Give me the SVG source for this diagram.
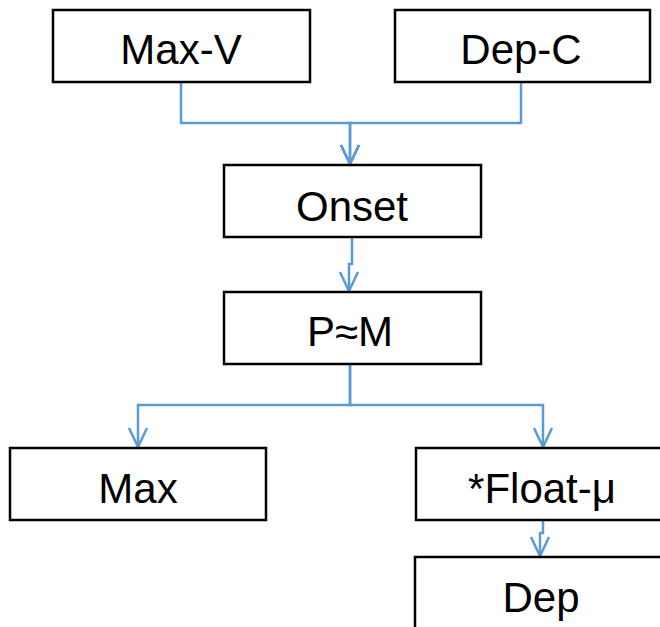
<svg xmlns="http://www.w3.org/2000/svg" width="660" height="627" viewBox="0 0 660 627">
<style>
.box{fill:#fff;stroke:#000;stroke-width:2.5}
.lbl{font-family:"Liberation Sans",Arial,sans-serif;font-size:42px;fill:#000;text-anchor:middle}
.con{fill:none;stroke:#5B9BD5;stroke-width:2.5;marker-end:url(#arr)}
</style>
<defs>
<marker id="arr" markerUnits="userSpaceOnUse" markerWidth="30" markerHeight="30" viewBox="-20 -15 30 30" refX="0" refY="0" orient="auto" overflow="visible">
<path d="M-19,-9 L0,0 L-19,9" fill="none" stroke="#5B9BD5" stroke-width="2.5"/>
</marker>
</defs>
<g id="connectors">
<path class="con" d="M181,82 V123 H350 V164"/>
<path class="con" d="M521,82 V123 H350 V164"/>
<path class="con" d="M352,237 V264 H349 V291"/>
<path class="con" d="M350,364 V405 H138 V447"/>
<path class="con" d="M350,364 V405 H543 V447"/>
<path class="con" d="M543,520 V533 H540 V556"/>
</g>
<g id="max-v"><rect class="box" x="53" y="10" width="257" height="72"/><text class="lbl" x="181" y="64">Max-V</text></g>
<g id="dep-c"><rect class="box" x="395" y="10" width="255" height="72"/><text class="lbl" x="521" y="64">Dep-C</text></g>
<g id="onset"><rect class="box" x="224" y="165" width="257" height="72"/><text class="lbl" x="352" y="221">Onset</text></g>
<g id="pm"><rect class="box" x="224" y="292" width="257" height="72"/><text class="lbl" x="350" y="346">P≈M</text></g>
<g id="max"><rect class="box" x="10" y="448" width="256" height="72"/><text class="lbl" x="138" y="503">Max</text></g>
<g id="float"><rect class="box" x="416" y="448" width="260" height="72"/><text class="lbl" x="542" y="503">*Float-μ</text></g>
<g id="dep"><rect class="box" x="415" y="557" width="260" height="90"/><text class="lbl" x="541" y="612">Dep</text></g>
</svg>
